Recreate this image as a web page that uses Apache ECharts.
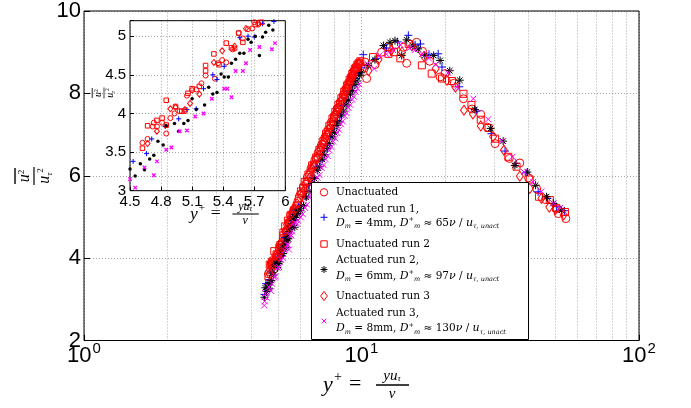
<!DOCTYPE html>
<html><head><meta charset="utf-8">
<script src="https://cdn.jsdelivr.net/npm/echarts@6/dist/echarts.min.js"></script>
<style>html,body{margin:0;padding:0;background:#fff}#c{width:691px;height:408px}</style>
</head><body><div id="c"></div>
<script>
// ---------------- DATA (y+, u'^2/u_tau^2) ----------------
const unactuated = [
[4.62,3.62],[4.67,3.67],[4.72,3.83],[4.73,3.88],[4.76,3.83],[4.81,3.88],[4.85,3.74],[4.89,3.94],[4.93,4.00],[4.98,4.03],
[5.03,4.03],[5.05,4.23],[5.10,4.30],[5.14,4.31],[5.19,4.39],[5.23,4.49],[5.32,4.45],[5.35,4.65],[5.39,4.69],[5.43,4.66],
[5.49,4.83],[5.51,4.84],[5.55,5.04],[5.59,4.97],[5.64,5.09],[5.68,5.10],[5.70,5.18],[5.74,5.15],[5.80,5.25],[5.90,5.38],
[6.02,5.55],[6.11,5.58],[6.19,5.74],[6.31,5.80],[6.38,5.97],[6.49,6.02],[6.58,6.18],[6.71,6.22],[6.79,6.38],[6.88,6.42],
[6.99,6.57],[7.08,6.61],[7.19,6.76],[7.31,6.80],[7.38,6.93],[7.51,6.98],[7.59,7.12],[7.71,7.15],[7.79,7.30],[7.92,7.33],
[8.01,7.47],[8.09,7.50],[8.21,7.64],[8.29,7.66],[8.41,7.80],[8.52,7.82],[8.61,7.96],[8.69,7.98],[8.81,8.12],[8.90,8.14],
[9.02,8.27],[9.11,8.29],[9.19,8.41],[9.32,8.43],[9.41,8.55],[9.50,8.57],[9.61,8.65],[9.72,8.70],[9.83,8.75],[9.95,8.66],
[10.3,8.76],[10.44,8.36],[11.2,8.70],[11.82,9.00],[12.5,9.12],[13.3,9.18],[14.15,9.12],[14.55,8.73],[15.8,9.24],[16.6,9.02],
[17.6,8.78],[19.2,8.40],[20.0,8.48],[21.6,8.25],[23.3,7.87],[25.0,7.62],[26.9,7.49],[28.4,7.18],[30.3,6.78],[34.1,6.42],
[37.2,6.31],[40.0,5.95],[42.8,5.68],[46.0,5.42],[50.7,5.20],[51.2,5.08],[54.5,4.96]
];
const actuated1 = [
[4.47,3.12],[4.53,3.38],[4.66,3.48],[4.71,3.67],[4.84,3.83],[4.97,3.93],[5.05,4.05],[5.14,4.06],[5.21,4.32],[5.30,4.50],
[5.34,4.44],[5.41,4.61],[5.56,4.98],[5.64,5.00],[5.70,4.99],[5.78,5.16],[5.89,5.19],[5.95,5.25],
[6.06,5.29],[6.27,5.50],[6.46,5.78],[6.68,5.96],[6.87,6.21],[7.09,6.36],[7.31,6.60],[7.52,6.74],[7.74,6.96],[7.95,7.14],
[8.18,7.34],[8.39,7.49],[8.62,7.70],[8.84,7.86],[9.07,8.05],[9.29,8.19],[9.52,8.36],[9.76,8.50],[10.0,8.62],
[10.15,8.94],[11.3,8.85],[12.3,9.10],[13.5,9.25],[14.75,9.41],[15.6,9.18],[16.3,9.20],[17.5,8.95],[18.9,8.96],[19.5,8.64],
[22.5,8.16],[26.0,7.57],[29.4,7.02],[32.9,6.60],[36.0,6.30],[39.2,6.07],[43.3,5.61],[46.8,5.45],[50.5,5.25],[53.8,5.15]
];
const unactuated2 = [
[4.62,3.55],[4.67,3.84],[4.76,3.91],[4.81,3.94],[4.85,3.85],[4.85,4.17],[4.94,4.09],[5.00,4.03],[5.06,4.26],[5.10,4.32],
[5.17,4.35],[5.23,4.62],[5.23,4.55],[5.31,4.77],[5.36,4.63],[5.43,4.91],[5.48,4.85],[5.55,5.04],[5.59,4.92],[5.71,5.15],
[5.77,5.18],[5.85,5.28],[5.95,5.45],
[6.05,5.62],[6.16,5.70],[6.24,5.85],[6.35,5.86],[6.44,6.03],[6.55,6.08],[6.64,6.25],[6.75,6.27],[6.85,6.44],[6.95,6.47],
[7.05,6.63],[7.14,6.68],[7.25,6.83],[7.36,6.86],[7.45,7.02],[7.55,7.06],[7.66,7.21],[7.75,7.24],[7.86,7.39],[7.96,7.42],
[8.05,7.55],[8.16,7.60],[8.25,7.72],[8.36,7.75],[8.46,7.88],[8.56,7.91],[8.66,8.04],[8.76,8.07],[8.86,8.19],[8.96,8.22],
[9.06,8.33],[9.16,8.37],[9.26,8.47],[9.36,8.51],[9.46,8.60],[9.57,8.63],[9.67,8.70],[9.78,8.73],[9.90,8.78],
[10.2,8.62],[11.0,8.88],[12.5,8.96],[13.1,9.00],[13.8,8.85],[14.8,9.20],[16.5,8.68],[17.9,8.48],[19.5,8.36],[21.2,8.30],
[23.3,7.99],[24.9,7.72],[26.9,7.36],[28.7,7.16],[30.3,6.90],[33.8,6.46],[36.2,6.22],[40.4,5.91],[43.6,5.49],[47.7,5.41],
[50.3,5.22],[54.1,5.12]
];
const actuated2 = [
[4.47,3.05],[4.50,3.28],[4.55,3.19],[4.60,3.35],[4.64,3.27],[4.69,3.41],[4.73,3.46],[4.77,3.64],[4.82,3.59],[4.85,3.84],
[4.93,3.87],[4.97,3.77],[5.02,3.87],[5.06,3.91],[5.10,4.19],[5.14,4.05],[5.22,4.11],[5.26,4.34],[5.30,4.25],[5.34,4.27],
[5.38,4.51],[5.41,4.47],[5.45,4.47],[5.48,4.65],[5.52,4.70],[5.56,4.78],[5.60,4.78],[5.64,4.96],[5.67,4.92],[5.71,5.00],
[5.75,4.75],[5.78,4.99],[5.81,5.05],[5.84,5.14],[5.88,5.08],
[6.03,5.15],[6.18,5.28],[6.33,5.48],[6.47,5.62],[6.62,5.81],[6.78,5.93],[6.93,6.13],[7.07,6.22],[7.22,6.40],[7.37,6.51],
[7.53,6.66],[7.68,6.78],[7.84,6.94],[8.00,7.05],[8.15,7.22],[8.31,7.31],[8.47,7.47],[8.63,7.57],[8.80,7.72],[8.96,7.83],
[9.13,7.98],[9.30,8.07],[9.47,8.21],[9.64,8.30],[9.82,8.43],[9.98,8.50],
[10.58,8.68],[11.18,8.82],[11.99,9.16],[12.67,9.24],[13.2,9.28],[13.96,8.92],[14.55,9.30],[15.3,9.15],[16.0,9.08],[16.9,8.92],
[18.2,8.92],[19.2,8.80],[20.8,8.55],[22.6,8.32],[25.6,7.61],[29.2,7.15],[32.4,6.84],[35.7,6.25],[39.6,6.09],[42.4,5.77],
[46.4,5.49],[49.1,5.33],[52.6,5.16]
];
const unactuated3 = [
[4.67,3.61],[4.76,3.77],[4.89,4.06],[4.94,4.08],[5.03,4.05],[5.08,4.13],[5.17,4.25],[5.31,4.66],[5.39,4.81],[5.51,4.87],
[5.62,5.10],[5.74,5.17],[5.86,5.32],
[6.08,5.50],[6.22,5.64],[6.36,5.84],[6.51,5.95],[6.63,6.15],[6.77,6.24],[6.92,6.43],[7.03,6.50],[7.17,6.70],[7.29,6.76],
[7.43,6.93],[7.57,7.04],[7.69,7.16],[7.83,7.24],[7.97,7.43],[8.11,7.48],[8.24,7.61],[8.38,7.70],[8.51,7.83],[8.65,7.92],
[8.79,8.05],[8.93,8.14],[9.07,8.24],[9.21,8.36],[9.35,8.44],[9.49,8.55],[9.64,8.63],[9.79,8.72],
[10.6,8.55],[11.5,8.82],[12.8,9.05],[14.0,9.00],[15.2,9.15],[16.8,8.90],[18.5,8.60],[20.3,8.32],[21.8,8.15],[23.4,7.59],
[25.2,7.50],[26.9,7.21],[29.8,6.95],[32.6,6.62],[37.2,5.99],[40.4,5.69],[44.5,5.45],[47.5,5.24],[50.0,5.18],[53.5,5.05]
];
const actuated3 = [
[4.46,2.85],[4.48,2.95],[4.50,3.15],[4.55,3.04],[4.64,3.30],[4.73,3.20],[4.76,3.38],[4.85,3.53],[4.90,3.56],[4.98,3.77],
[5.05,3.78],[5.13,3.96],[5.21,4.00],[5.29,4.19],[5.41,4.32],[5.44,4.32],[5.48,4.21],[5.52,4.55],[5.59,4.55],[5.62,4.65],
[5.66,4.82],[5.75,4.86],[5.87,4.83],[5.90,4.91],
[6.04,4.99],[6.14,5.07],[6.26,5.22],[6.37,5.30],[6.48,5.47],[6.59,5.55],[6.70,5.72],[6.82,5.79],[6.94,5.95],[7.06,6.02],
[7.18,6.19],[7.30,6.26],[7.43,6.40],[7.55,6.48],[7.67,6.62],[7.79,6.70],[7.91,6.83],[8.04,6.91],[8.17,7.04],[8.30,7.12],
[8.43,7.25],[8.56,7.32],[8.70,7.45],[8.83,7.52],[8.97,7.65],[9.11,7.72],[9.25,7.85],[9.39,7.92],[9.54,8.04],[9.68,8.11],
[9.83,8.22],
[10.5,8.72],[11.1,8.60],[11.6,8.92],[12.3,8.95],[13.0,9.05],[13.8,9.18],[14.9,9.10],[15.6,9.05],[16.5,8.95],[17.5,8.85],
[18.5,8.70],[20.5,8.50],[22.1,8.15],[25.3,7.87],[28.6,7.37],[32.0,6.85],[35.0,6.46],[38.5,6.09],[41.5,5.85],[44.5,5.62],
[49.1,5.33],[52.0,5.22]
];

// axis / tick definitions
const mainXRange = [1, 100];
const mainYRange = [2, 10];
const mainYInterval = 2;
const minorGridX = [2,3,4,5,6,7,8,9,20,30,40,50,60,70,80,90];
const insetXRange = [4.5, 6];
const insetXInterval = 0.3;
const insetYRange = [3, 5.2];
const insetYInterval = 0.5;

const legendTitles = ['Unactuated','Actuated run 1,','Unactuated run 2','Actuated run 2,','Unactuated run 3','Actuated run 3,'];
const legendDm = ['4mm','6mm','8mm'];
const legendDplus = ['65','97','130'];

// ---------------- STYLE ----------------
const RED = '#ff0000', BLUE = '#0000ff', BLK = '#000000', MAG = '#ff00ff';
const NONE = 'rgba(0,0,0,0)';
const PLUS = 'path://M5,0L5,10M0,5L10,5';
const STAR = 'path://M5,0L5,10M0,5L10,5M1.5,1.5L8.5,8.5M8.5,1.5L1.5,8.5';
const CROSS = 'path://M0,0L10,10M10,0L0,10';
const SANS = 'Liberation Sans';
const SERIF = 'DejaVu Serif';
const MSERIF = 'Liberation Serif';
const grid = 'rgba(0,0,0,0.35)';

const seriesDefs = [
  {name:'u0', data: unactuated, main:{symbol:'circle', size:8, fill:NONE, stroke:RED, bw:1}, inset:{symbol:'circle', size:5, fill:NONE, stroke:RED, bw:1}},
  {name:'a1', data: actuated1, main:{symbol:PLUS, size:8, fill:NONE, stroke:BLUE, bw:1}, inset:{symbol:PLUS, size:5, fill:NONE, stroke:BLUE, bw:1}},
  {name:'u2', data: unactuated2, main:{symbol:'rect', size:7, fill:NONE, stroke:RED, bw:1}, inset:{symbol:'rect', size:4.5, fill:NONE, stroke:RED, bw:1}},
  {name:'a2', data: actuated2, main:{symbol:STAR, size:8, fill:NONE, stroke:BLK, bw:1}, inset:{symbol:'circle', size:3.5, fill:BLK, stroke:BLK, bw:0}},
  {name:'u3', data: unactuated3, main:{symbol:'diamond', size:[7,10], fill:NONE, stroke:RED, bw:1}, inset:{symbol:'diamond', size:[5,6], fill:NONE, stroke:RED, bw:1}},
  {name:'a3', data: actuated3, main:{symbol:CROSS, size:6, fill:NONE, stroke:MAG, bw:1}, inset:{symbol:CROSS, size:3.5, fill:NONE, stroke:MAG, bw:1.3}}
];

const series = [];
series.push({
  type:'scatter', xAxisIndex:0, yAxisIndex:0, data:[], z:1, silent:true,
  markLine:{silent:true, symbol:['none','none'], label:{show:false}, animation:false,
    lineStyle:{type:[1,2], color:grid, width:1},
    data: minorGridX.map(v => ({xAxis:v}))}
});
seriesDefs.forEach(d => {
  series.push({type:'scatter', name:d.name, xAxisIndex:0, yAxisIndex:0, data:d.data, z:3,
    symbol:d.main.symbol, symbolSize:d.main.size,
    itemStyle:{color:d.main.fill, borderColor:d.main.stroke, borderWidth:d.main.bw, opacity:1},
    emphasis:{disabled:true}});
});
seriesDefs.forEach(d => {
  series.push({type:'scatter', name:d.name+'_in', xAxisIndex:1, yAxisIndex:1, data:d.data, z:3, clip:true,
    symbol:d.inset.symbol, symbolSize:d.inset.size,
    itemStyle:{color:d.inset.fill, borderColor:d.inset.stroke, borderWidth:d.inset.bw, opacity:1},
    emphasis:{disabled:true}});
});

// ---------- helper graphics (labels with math) ----------
function fracYLabel(cx, cy, s) {
  return {type:'group', x:cx, y:cy, rotation:Math.PI/2, scaleX:s, scaleY:s, children:[
    {type:'line', shape:{x1:-8, y1:-19, x2:8, y2:-19}, style:{stroke:'#000', lineWidth:1.4}},
    {type:'text', x:0, y:-9, style:{text:'{i|u}{p|2}', align:'center', verticalAlign:'middle',
      rich:{i:{fontFamily:MSERIF, fontStyle:'italic', fontSize:16, lineHeight:16, fill:'#000'},
            p:{fontFamily:MSERIF, fontSize:9, lineHeight:9, verticalAlign:'top', fill:'#000'}}}},
    {type:'line', shape:{x1:-9, y1:0, x2:9, y2:0}, style:{stroke:'#000', lineWidth:1.2}},
    {type:'text', x:0, y:11, style:{text:'{i|u}{s|τ}{p|2}', align:'center', verticalAlign:'middle',
      rich:{i:{fontFamily:MSERIF, fontStyle:'italic', fontSize:16, lineHeight:18, fill:'#000'},
            s:{fontFamily:MSERIF, fontStyle:'italic', fontSize:9, lineHeight:9, verticalAlign:'bottom', fill:'#000'},
            p:{fontFamily:MSERIF, fontSize:9, lineHeight:9, verticalAlign:'top', fill:'#000'}}}}
  ]};
}
function yplusLabel(x0, y0, s) {
  const it = {fontFamily:MSERIF, fontStyle:'italic', fill:'#000'};
  return {type:'group', x:x0, y:y0, scaleX:s, scaleY:s, children:[
    {type:'text', x:0, y:0, style:Object.assign({text:'y', fontSize:22, verticalAlign:'middle', align:'left'}, it)},
    {type:'text', x:11, y:-8, style:{text:'+', fontFamily:MSERIF, fontSize:14, verticalAlign:'middle', fill:'#000'}},
    {type:'text', x:26, y:-1, style:{text:'=', fontFamily:MSERIF, fontSize:22, verticalAlign:'middle', fill:'#000'}},
    {type:'text', x:69, y:-9, style:{text:'{i|yu}{s|τ}', align:'center', verticalAlign:'middle',
      rich:{i:{fontFamily:MSERIF, fontStyle:'italic', fontSize:15, lineHeight:15, fill:'#000'},
            s:{fontFamily:MSERIF, fontStyle:'italic', fontSize:9, lineHeight:9, verticalAlign:'bottom', fill:'#000'}}}},
    {type:'line', shape:{x1:53, y1:0, x2:86, y2:0}, style:{stroke:'#000', lineWidth:1.3}},
    {type:'text', x:69, y:9, style:Object.assign({text:'ν', fontSize:15, align:'center', verticalAlign:'middle'}, it)}
  ]};
}

// ---------- legend (drawn as graphics) ----------
const LX = 311, LY = 182, LW = 217, LH = 157, IX = 324, TX = 336;
const legendRows = [
  {icon:'circle', iy:192.3, lines:[[legendTitles[0],192.3]]},
  {icon:'plus', iy:217.3, lines:[[legendTitles[1],209.3]], math:[0,222.8]},
  {icon:'square', iy:244, lines:[[legendTitles[2],244]]},
  {icon:'star', iy:269.5, lines:[[legendTitles[3],260.7]], math:[1,276.3]},
  {icon:'diamond', iy:296, lines:[[legendTitles[4],296]]},
  {icon:'cross', iy:321, lines:[[legendTitles[5],313.3]], math:[2,328.6]}
];
function iconGraphic(kind, cx, cy) {
  const ln = (x1,y1,x2,y2,c) => ({type:'line', z:101, shape:{x1:cx+x1,y1:cy+y1,x2:cx+x2,y2:cy+y2}, style:{stroke:c, lineWidth:1}});
  if (kind==='circle') return [{type:'circle', z:101, shape:{cx:cx, cy:cy, r:3.7}, style:{fill:'none', stroke:RED, lineWidth:1}}];
  if (kind==='square') return [{type:'rect', z:101, shape:{x:cx-3.2, y:cy-3.2, width:6.4, height:6.4}, style:{fill:'none', stroke:RED, lineWidth:1}}];
  if (kind==='diamond') return [{type:'polygon', z:101, shape:{points:[[cx,cy-4.6],[cx+3.3,cy],[cx,cy+4.6],[cx-3.3,cy]]}, style:{fill:'none', stroke:RED, lineWidth:1}}];
  if (kind==='plus') return [ln(-3.5,0,3.5,0,BLUE), ln(0,-3.5,0,3.5,BLUE)];
  if (kind==='star') return [ln(-3.5,0,3.5,0,BLK), ln(0,-3.5,0,3.5,BLK), ln(-2.5,-2.5,2.5,2.5,BLK), ln(2.5,-2.5,-2.5,2.5,BLK)];
  return [ln(-2.3,-2.3,2.3,2.3,MAG), ln(2.3,-2.3,-2.3,2.3,MAG)];
}
const legendEls = [{type:'rect', z:100, shape:{x:LX+0.5, y:LY+0.5, width:LW, height:LH}, style:{fill:'#fff', stroke:'#000', lineWidth:1}}];
const mathRich = {
  i:{fontFamily:SERIF, fontStyle:'italic', fontSize:11, lineHeight:14, fill:'#000'},
  r:{fontFamily:SERIF, fontSize:10.5, lineHeight:14, fill:'#000'},
  s:{fontFamily:SERIF, fontStyle:'italic', fontSize:6.5, lineHeight:6, verticalAlign:'bottom', fill:'#000'},
  p:{fontFamily:SERIF, fontSize:6.5, lineHeight:6, verticalAlign:'top', fill:'#000'}
};
legendRows.forEach(r => {
  iconGraphic(r.icon, IX, r.iy).forEach(e => legendEls.push(e));
  r.lines.forEach(l => legendEls.push({type:'text', z:101, x:TX, y:l[1],
    style:{text:l[0], fontFamily:SERIF, fontSize:10.5, fill:'#000', verticalAlign:'middle', align:'left'}}));
  if (r.math) {
    const k = r.math[0];
    legendEls.push({type:'text', z:101, x:TX, y:r.math[1], style:{
      text:'{i|D}{s|m}{r| = '+legendDm[k]+', }{i|D}{p|+}{s|m}{r| ≈ '+legendDplus[k]+'}{i|ν}{r| / }{i|u}{s|τ, unact}',
      verticalAlign:'middle', align:'left', rich:mathRich}});
  }
});

const option = {
  animation:false,
  textStyle:{fontFamily:SANS},
  grid:[
    {left:84, top:10.5, width:555, height:330, show:true, borderColor:'#000', borderWidth:1, backgroundColor:'transparent', containLabel:false},
    {left:130, top:20.7, width:155.3, height:170, show:true, borderColor:'#000', borderWidth:1, backgroundColor:'transparent', containLabel:false}
  ],
  xAxis:[
    {gridIndex:0, type:'log', logBase:10, min:mainXRange[0], max:mainXRange[1],
     axisLine:{show:false}, axisTick:{show:true, inside:true, length:6, lineStyle:{color:'#000'}},
     splitLine:{show:true, lineStyle:{type:[1,2], color:grid}},
     axisLabel:{margin:1, formatter:v => '{b|10}{e|'+Math.round(Math.log10(v))+'}',
       rich:{b:{fontFamily:SANS, fontSize:22, lineHeight:25, verticalAlign:'bottom', color:'#000'},
             e:{fontFamily:SANS, fontSize:15, lineHeight:15, verticalAlign:'top', padding:[0,0,12,1], color:'#000'}}}},
    {gridIndex:1, type:'value', min:insetXRange[0], max:insetXRange[1], interval:insetXInterval,
     axisLine:{show:false}, axisTick:{show:true, inside:true, length:4, lineStyle:{color:'#000'}},
     splitLine:{show:true, lineStyle:{type:[1,2], color:grid}},
     axisLabel:{margin:4, fontSize:15, color:'#000', fontFamily:SANS, formatter:v => String(Number(v.toFixed(1)))}}
  ],
  yAxis:[
    {gridIndex:0, type:'value', min:mainYRange[0], max:mainYRange[1], interval:mainYInterval,
     axisLine:{show:false}, axisTick:{show:true, inside:true, length:6, lineStyle:{color:'#000'}},
     splitLine:{show:true, lineStyle:{type:[1,2], color:grid}},
     axisLabel:{margin:3, fontSize:22, color:'#000', fontFamily:SANS}},
    {gridIndex:1, type:'value', min:insetYRange[0], max:insetYRange[1], interval:insetYInterval,
     axisLine:{show:false}, axisTick:{show:true, inside:true, length:4, lineStyle:{color:'#000'}},
     splitLine:{show:true, lineStyle:{type:[1,2], color:grid}},
     axisLabel:{margin:4, fontSize:15, color:'#000', fontFamily:SANS,
       formatter:v => (Math.abs(v*2 - Math.round(v*2)) > 1e-6 ? '' : String(Number(v.toFixed(1))))}}
  ],
  series: series,
  graphic:[
    fracYLabel(34, 176, 1),
    fracYLabel(104, 93, 0.62),
    yplusLabel(323, 385, 1),
    yplusLabel(190, 214, 0.8)
  ].concat(legendEls)
};
const chart = echarts.init(document.getElementById('c'));
chart.setOption(option);
</script></body></html>
